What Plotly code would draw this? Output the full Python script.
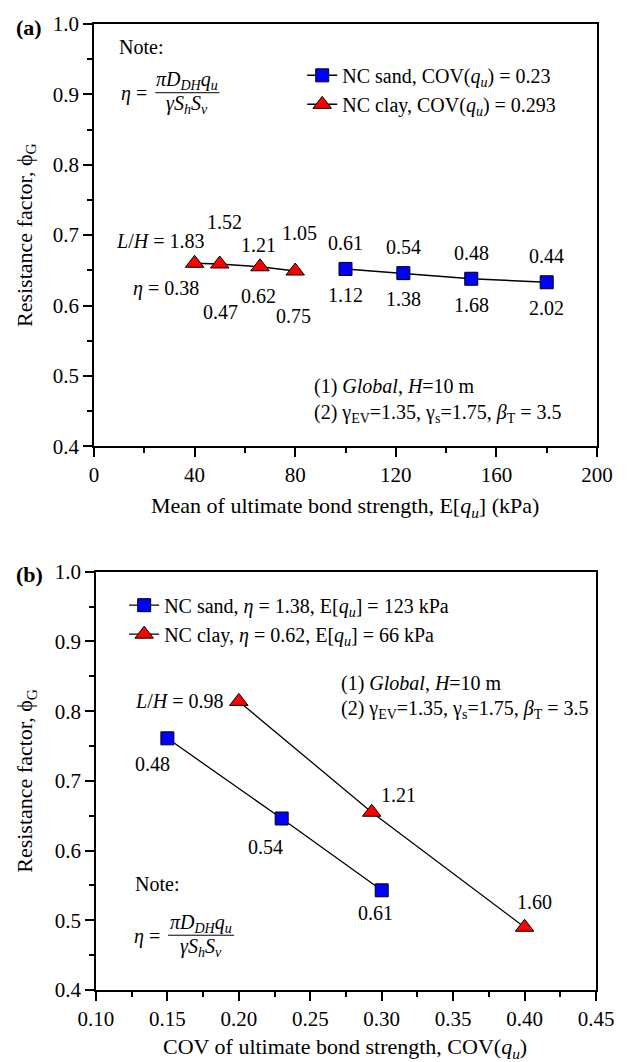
import plotly.graph_objects as go

# ---------------- data ----------------
# panel (a)
sand_a_x = [100, 123, 150, 180]
sand_a_y = [0.652, 0.646, 0.638, 0.633]
sand_a_top = ["0.61", "0.54", "0.48", "0.44"]        # L/H
sand_a_bot = ["1.12", "1.38", "1.68", "2.02"]        # eta
clay_a_x = [40, 50, 66, 80]
clay_a_y = [0.660, 0.659, 0.655, 0.649]
clay_a_top = ["<i>L</i>/<i>H</i> = 1.83", "1.52", "1.21", "1.05"]
clay_a_bot = ["<i>η</i> = 0.38", "0.47", "0.62", "0.75"]

# panel (b)
sand_b_x = [0.15, 0.23, 0.30]
sand_b_y = [0.761, 0.646, 0.543]
sand_b_lab = ["0.48", "0.54", "0.61"]
clay_b_x = [0.20, 0.293, 0.40]
clay_b_y = [0.814, 0.655, 0.490]
clay_b_lab = ["<i>L</i>/<i>H</i> = 0.98", "1.21", "1.60"]

xticks_a = [0, 40, 80, 120, 160, 200]
xticks_b = [0.10, 0.15, 0.20, 0.25, 0.30, 0.35, 0.40, 0.45]
yticks = [0.4, 0.5, 0.6, 0.7, 0.8, 0.9, 1.0]

# ---------------- styling ----------------
FONT = "Liberation Serif"
FS = 20
FS_TICK = 21
FS_TITLE = 22
BLUE = "#0000FF"
RED = "#FF0000"

W, H = 627, 1062
ML, MR, MT, MB = 94, 16, 20, 72
PH = H - MT - MB


def py(px_y):
    return (H - MB - px_y) / PH


def pxx(px_x):
    return (px_x - ML) / (W - ML - MR)


fig = go.Figure()

# panel (a)
fig.add_trace(go.Scatter(
    x=sand_a_x, y=sand_a_y, mode="lines+markers",
    name="NC sand, COV(<i>q</i><sub><i>u</i></sub>) = 0.23",
    line=dict(color="black", width=1.5),
    marker=dict(symbol="square", size=13, color=BLUE, line=dict(color="black", width=1)),
    xaxis="x", yaxis="y", legend="legend"))
fig.add_trace(go.Scatter(
    x=clay_a_x, y=clay_a_y, mode="lines+markers",
    name="NC clay, COV(<i>q</i><sub><i>u</i></sub>) = 0.293",
    line=dict(color="black", width=1.5),
    marker=dict(symbol="triangle-up", size=16, color=RED, line=dict(color="black", width=1)),
    xaxis="x", yaxis="y", legend="legend"))

# panel (b)
fig.add_trace(go.Scatter(
    x=sand_b_x, y=sand_b_y, mode="lines+markers",
    name="NC sand, <i>η</i> = 1.38, E[<i>q</i><sub><i>u</i></sub>] = 123 kPa",
    line=dict(color="black", width=1.3),
    marker=dict(symbol="square", size=13, color=BLUE, line=dict(color="black", width=1)),
    xaxis="x2", yaxis="y2", legend="legend2"))
fig.add_trace(go.Scatter(
    x=clay_b_x, y=clay_b_y, mode="lines+markers",
    name="NC clay, <i>η</i> = 0.62, E[<i>q</i><sub><i>u</i></sub>] = 66 kPa",
    line=dict(color="black", width=1.3),
    marker=dict(symbol="triangle-up", size=16, color=RED, line=dict(color="black", width=1)),
    xaxis="x2", yaxis="y2", legend="legend2"))

ann = []


def lab(x, y, text, dx, dy, xr, yr, xanchor="center"):
    ann.append(dict(x=x, y=y, xref=xr, yref=yr, text=text, showarrow=False,
                    xshift=dx, yshift=dy, xanchor=xanchor, yanchor="middle",
                    font=dict(family=FONT, size=FS, color="black")))


# point labels (a)
top_off_clay = [(-35, 22), (5, 42), (-1, 22), (4, 38)]
bot_off_clay = [(-29, -25), (1, -48), (-1, -29), (-2, -45)]
for i in range(len(clay_a_x)):
    lab(clay_a_x[i], clay_a_y[i], clay_a_top[i], *top_off_clay[i], "x", "y")
    lab(clay_a_x[i], clay_a_y[i], clay_a_bot[i], *bot_off_clay[i], "x", "y")
for i in range(len(sand_a_x)):
    lab(sand_a_x[i], sand_a_y[i], sand_a_top[i], 0, 26, "x", "y")
    lab(sand_a_x[i], sand_a_y[i], sand_a_bot[i], 0, -26, "x", "y")

# point labels (b)
sand_b_off = [(-15, -26), (-16, -28), (-6, -23)]
for i in range(len(sand_b_x)):
    lab(sand_b_x[i], sand_b_y[i], sand_b_lab[i], *sand_b_off[i], "x2", "y2")
lab(clay_b_x[0], clay_b_y[0], clay_b_lab[0], -14, 0, "x2", "y2", xanchor="right")
lab(clay_b_x[1], clay_b_y[1], clay_b_lab[1], 27, 17, "x2", "y2")
lab(clay_b_x[2], clay_b_y[2], clay_b_lab[2], 10, 25, "x2", "y2")


def txt(xp, yp, text, xanchor="left", size=FS, angle=0):
    ann.append(dict(x=pxx(xp), y=py(yp), xref="paper", yref="paper", text=text,
                    showarrow=False, xanchor=xanchor, yanchor="middle", textangle=angle,
                    font=dict(family=FONT, size=size, color="black")))


shapes = []


def formula(x_eta, y_mid, x_num_c, x_line0, x_line1):
    txt(x_eta, y_mid + 1, "<i>η</i> =")
    txt(x_num_c, y_mid - 12, "<i>πD</i><sub><i>DH</i></sub><i>q</i><sub><i>u</i></sub>", xanchor="center")
    txt(x_num_c, y_mid + 12, "<i>γS</i><sub><i>h</i></sub><i>S</i><sub><i>v</i></sub>", xanchor="center")
    shapes.append(dict(type="line", xref="paper", yref="paper",
                       x0=pxx(x_line0), x1=pxx(x_line1), y0=py(y_mid), y1=py(y_mid),
                       line=dict(color="black", width=1)))


# panel (a) notes
txt(118, 43, "Note:")
formula(120, 89, 190, 157, 223)
txt(318, 384, "(1) <i>Global</i>, <i>H</i>=10 m")
txt(318, 411, "(2) γ<sub>EV</sub>=1.35, γ<sub>s</sub>=1.75, <i>β</i><sub>T</sub> = 3.5")

# panel (b) notes
txt(134, 884, "Note:")
formula(133, 935, 204, 170, 238)
txt(346, 682, "(1) <i>Global</i>, <i>H</i>=10 m")
txt(346, 708, "(2) γ<sub>EV</sub>=1.35, γ<sub>s</sub>=1.75, <i>β</i><sub>T</sub> = 3.5")

# panel letters
txt(12, 24, "<b>(a)</b>", size=22)
txt(12, 573, "<b>(b)</b>", size=22)

# axis titles
txt(24, 232, "Resistance factor, ϕ<sub>G</sub>", xanchor="center", angle=-90, size=FS_TITLE)
txt(24, 780, "Resistance factor, ϕ<sub>G</sub>", xanchor="center", angle=-90, size=FS_TITLE)
txt(352, 505, "Mean of ultimate bond strength, E[<i>q</i><sub><i>u</i></sub>] (kPa)", xanchor="center",
    size=FS_TITLE)
txt(352, 1048, "COV of ultimate bond strength, COV(<i>q</i><sub><i>u</i></sub>)", xanchor="center",
    size=FS_TITLE)

axis_common = dict(showline=True, linecolor="black", linewidth=1.5, mirror=True,
                   ticks="outside", ticklen=9, tickwidth=1.5, tickcolor="black",
                   showgrid=False, zeroline=False,
                   tickfont=dict(family=FONT, size=FS_TICK, color="black"))

fig.update_layout(
    width=W, height=H,
    margin=dict(l=ML, r=MR, t=MT, b=MB),
    paper_bgcolor="white", plot_bgcolor="white",
    font=dict(family=FONT, size=FS, color="black"),
    xaxis=dict(domain=[0, 1], range=[0, 200], tickvals=xticks_a, anchor="y",
               minor=dict(dtick=20, ticklen=5, ticks="outside", tickcolor="black", tickwidth=1.5),
               **axis_common),
    yaxis=dict(domain=[py(444), 1], range=[0.4, 1.0], tickvals=yticks, tickformat=".1f", anchor="x",
               minor=dict(dtick=0.05, ticklen=5, ticks="outside", tickcolor="black", tickwidth=1.5),
               **axis_common),
    xaxis2=dict(domain=[pxx(96), pxx(610)], range=[0.10, 0.45], tickvals=xticks_b, tickformat=".2f",
                anchor="y2",
                minor=dict(dtick=0.025, ticklen=5, ticks="outside", tickcolor="black", tickwidth=1.5),
                **axis_common),
    yaxis2=dict(domain=[0, py(570)], range=[0.4, 1.0], tickvals=yticks, tickformat=".1f", anchor="x2",
                minor=dict(dtick=0.05, ticklen=5, ticks="outside", tickcolor="black", tickwidth=1.5),
                **axis_common),
    legend=dict(x=pxx(308), y=py(52), xanchor="left", yanchor="top", bgcolor="rgba(0,0,0,0)",
                font=dict(family=FONT, size=FS, color="black"), tracegroupgap=0, itemwidth=30),
    legend2=dict(x=pxx(125), y=py(584), xanchor="left", yanchor="top", bgcolor="rgba(0,0,0,0)",
                 font=dict(family=FONT, size=FS, color="black"), tracegroupgap=0, itemwidth=30),
    annotations=ann,
    shapes=shapes,
    showlegend=True,
)

fig.write_html("out.html")
